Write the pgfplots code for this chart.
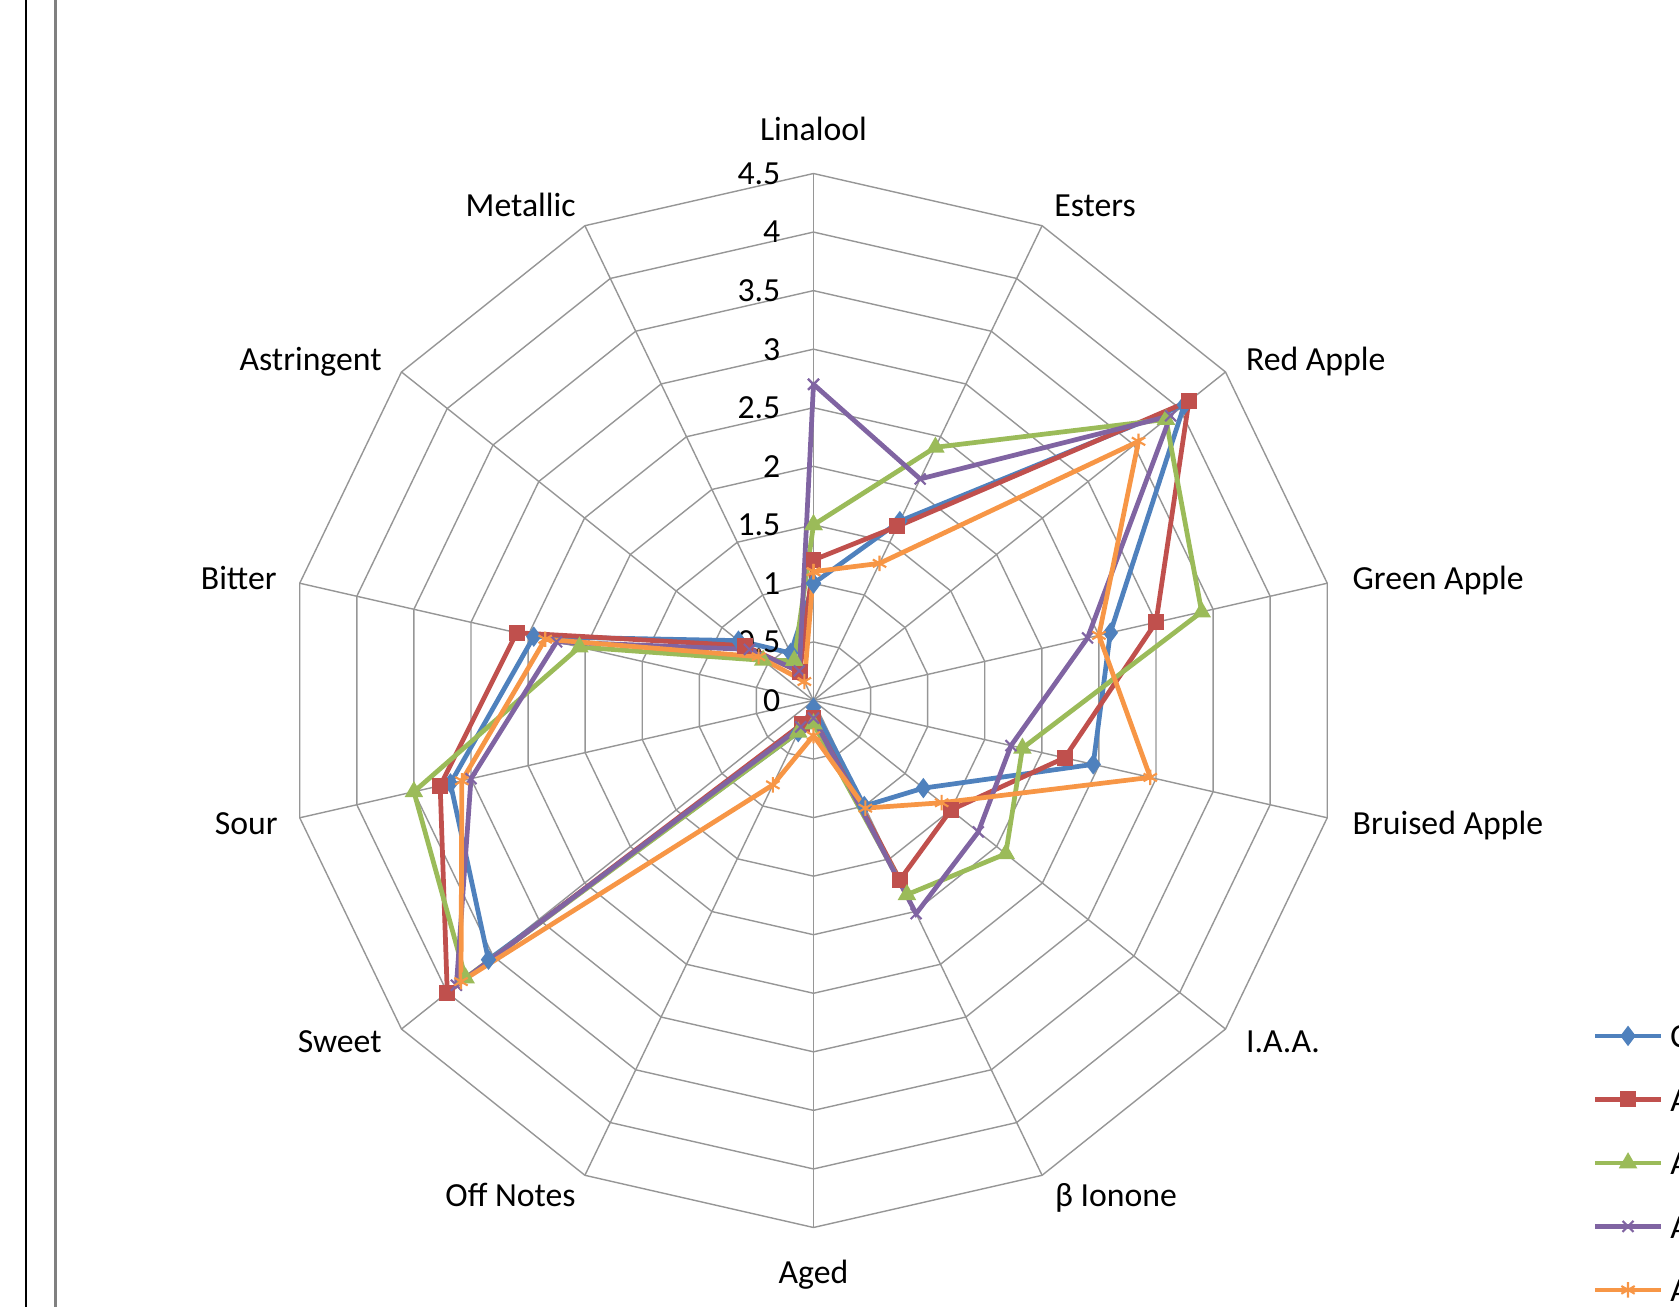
\documentclass[border=0pt]{standalone}
\usepackage{fontspec}
\setmainfont{Carlito}
\usepackage{pgfplots}
\pgfplotsset{compat=1.18}
\usepackage{pgfplotstable}
\usepgfplotslibrary{polar}

\definecolor{sBlue}{HTML}{4F81BD}
\definecolor{sRed}{HTML}{C0504D}
\definecolor{sGreen}{HTML}{9BBB59}
\definecolor{sPurple}{HTML}{8064A2}
\definecolor{sOrange}{HTML}{F79646}
\definecolor{gridgray}{RGB}{150,150,150}

% angle of each attribute (clockwise from Linalool at the top), last row closes the web
\pgfplotstableread{
a        c1    c2    c3    c4    c5
90       1.0   1.2   1.5   2.7   1.1
64.29    1.7   1.65  2.4   2.1   1.3
38.57    4.05  4.1   3.85  3.9   3.55
12.86    2.6   3.0   3.4   2.4   2.5
-12.86   2.45  2.2   1.83  1.73  2.95
-38.57   1.2   1.5   2.1   1.8   1.4
-64.29   1.0   1.7   1.84  2.02  1.02
-90      0.06  0.15  0.2   0.15  0.3
-115.71  0.3   0.22  0.3   0.25  0.8
-141.43  3.55  4.0   3.8   3.9   3.85
-167.14  3.18  3.27  3.5   3.0   3.08
-192.86  2.45  2.6   2.05  2.25  2.35
-218.57  0.82  0.75  0.55  0.7   0.6
-244.29  0.45  0.27  0.38  0.28  0.18
-270     1.0   1.2   1.5   2.7   1.1
}\sensory

\begin{document}
\begin{tikzpicture}[font=\fontsize{9.6}{11}\selectfont]
\begin{polaraxis}[
  hide axis,
  width=10.54cm, height=10.54cm, scale only axis,
  ymin=0, ymax=4.5,
  clip=false,
  legend cell align=left,
  legend image code/.code={\draw[mark repeat=2,mark phase=2] plot coordinates {(0cm,0cm) (0.33cm,0cm) (0.66cm,0cm)};},
  legend style={at={(axis description cs:1.2386,0.0613)}, anchor=west,
    draw=none, fill=none, inner sep=0pt, row sep=0.4cm, column sep=0.07cm,
    nodes={inner sep=0pt, text height=1.4ex, text depth=0pt},
    font=\fontsize{9.6}{11}\selectfont},
  every axis plot/.append style={line width=1.35pt, mark options={solid}},
]
% web: rings and spokes
\pgfplotsinvokeforeach{0.5,1,1.5,2,2.5,3,3.5,4,4.5}{
  \addplot[gridgray, line width=0.4pt, no marks, forget plot] coordinates {
    (90,#1) (64.29,#1) (38.57,#1) (12.86,#1) (-12.86,#1) (-38.57,#1) (-64.29,#1)
    (-90,#1) (-115.71,#1) (-141.43,#1) (-167.14,#1) (167.14,#1) (141.43,#1) (115.71,#1) (90,#1)};
}
\pgfplotsinvokeforeach{90,64.29,38.57,12.86,-12.86,-38.57,-64.29,-90,-115.71,-141.43,-167.14,167.14,141.43,115.71}{
  \addplot[gridgray, line width=0.4pt, no marks, forget plot] coordinates {(#1,0) (#1,4.5)};
}

\addplot[sBlue, mark=diamond*, mark size=1.8pt] table[x=a, y=c1] {\sensory};
\addlegendentry{C}
\addplot[sRed, mark=square*, mark size=1.6pt] table[x=a, y=c2] {\sensory};
\addlegendentry{A}
\addplot[sGreen, mark=triangle*, mark size=1.7pt] table[x=a, y=c3] {\sensory};
\addlegendentry{A}
\addplot[sPurple, mark=x, mark size=2.2pt, mark options={solid, line width=0.6pt}] table[x=a, y=c4] {\sensory};
\addlegendentry{A}
\addplot[sOrange, mark=asterisk, mark size=2.2pt, mark options={solid, line width=0.6pt}] table[x=a, y=c5] {\sensory};
\addlegendentry{A}

% radial tick labels along the Linalool spoke
\pgfplotsinvokeforeach{0,0.5,1,1.5,2,2.5,3,3.5,4,4.5}{
  \node[anchor=east, inner sep=0pt, xshift=-0.325cm] at (axis cs:90,#1) {#1};
}
\coordinate (O) at (axis cs:0,0);
\end{polaraxis}

\pgfresetboundingbox
\path[use as bounding box] (O) ++(-8.135,-6.065) rectangle ++(16.79,13.07);

\begin{scope}[shift={(O)}, every node/.style={inner sep=0pt, text height=1.4ex, text depth=0pt}]
  \draw[black, line width=0.6pt] (-7.878,-7) -- (-7.878,8);
  \draw[gray, line width=0.9pt] (-7.578,-7) -- (-7.578,8);
  \node[anchor=center] at (0,5.72) {Linalool};
  \node[anchor=center] at (2.815,4.96) {Esters};
  \node[anchor=west] at (4.318,3.418) {Red Apple};
  \node[anchor=west] at (5.385,1.225) {Green Apple};
  \node[anchor=west] at (5.385,-1.219) {Bruised Apple};
  \node[anchor=west] at (4.318,-3.403) {I.A.A.};
  \node[anchor=center] at (3.025,-4.945) {β Ionone};
  \node[anchor=center] at (0,-5.715) {Aged};
  \node[anchor=center] at (-3.03,-4.945) {Off Notes};
  \node[anchor=east] at (-4.312,-3.403) {Sweet};
  \node[anchor=east] at (-5.351,-1.219) {Sour};
  \node[anchor=east] at (-5.362,1.223) {Bitter};
  \node[anchor=east] at (-4.312,3.418) {Astringent};
  \node[anchor=center] at (-2.928,4.96) {Metallic};
\end{scope}
\end{tikzpicture}
\end{document}
